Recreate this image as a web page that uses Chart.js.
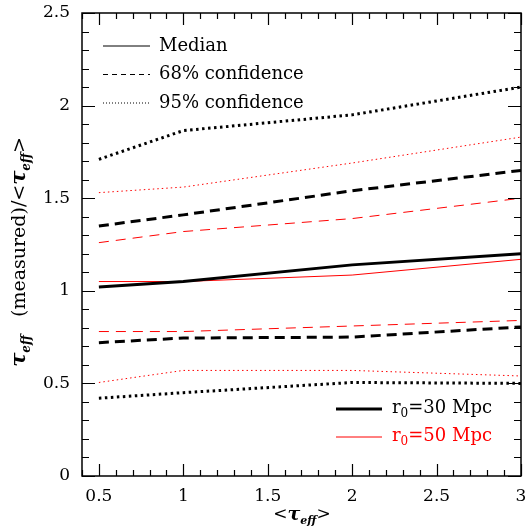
<!DOCTYPE html>
<html>
<head>
<meta charset="utf-8">
<script src="https://cdn.jsdelivr.net/npm/chart.js@4.4.1/dist/chart.umd.min.js"></script>
<style>
  html, body { margin: 0; padding: 0; background: #fff; }
  #wrap { width: 527px; height: 527px; }
</style>
</head>
<body>
<div id="wrap"><canvas id="myChart"></canvas></div>
<script>
// mean optical depth bins
var tauBins = [0.5, 1, 2, 3];

// r0 = 30 Mpc (black)
var r30Median = [1.02, 1.05, 1.14, 1.20];
var r30Hi68 = [1.35, 1.41, 1.54, 1.65];
var r30Lo68 = [0.72, 0.745, 0.75, 0.805];
var r30Hi95 = [1.71, 1.865, 1.95, 2.10];
var r30Lo95 = [0.42, 0.45, 0.505, 0.50];

// r0 = 50 Mpc (red)
var r50Median = [1.05, 1.05, 1.085, 1.17];
var r50Hi68 = [1.26, 1.32, 1.39, 1.50];
var r50Lo68 = [0.78, 0.78, 0.81, 0.84];
var r50Hi95 = [1.53, 1.56, 1.69, 1.83];
var r50Lo95 = [0.505, 0.57, 0.57, 0.54];

var xTicks = [0.5, 1, 1.5, 2, 2.5, 3];
var yTicks = [0, 0.5, 1, 1.5, 2, 2.5];

var FONT = '"DejaVu Serif", serif';

function pts(vals) {
    return tauBins.map(function (x, i) { return { x: x, y: vals[i] }; });
}

function line(vals, color, width, dash) {
    return {
        data: pts(vals),
        borderColor: color,
        borderWidth: width,
        borderDash: dash,
        pointRadius: 0,
        fill: false,
        tension: 0
    };
}

var DASH_K = [10, 6], DOT_K = [2.5, 3.5];
var DASH_R = [10, 7], DOT_R = [1.5, 3];

// frame + inside ticks on all four sides
var framePlugin = {
    id: 'frame',
    afterDatasetsDraw: function (chart) {
        var c = chart.ctx, a = chart.chartArea;
        var xs = chart.scales.x, ys = chart.scales.y;
        c.save();
        c.strokeStyle = '#000';
        c.lineWidth = 1.5;
        c.strokeRect(a.left, a.top, a.right - a.left, a.bottom - a.top);
        c.lineWidth = 1.2;
        c.beginPath();
        for (var i = 4; i <= 30; i++) {
            var v = i / 10, px = Math.round(xs.getPixelForValue(v)) + 0.5;
            var len = (i % 5 === 0) ? 12 : 6;
            c.moveTo(px, a.bottom); c.lineTo(px, a.bottom - len);
            c.moveTo(px, a.top); c.lineTo(px, a.top + len);
        }
        for (var j = 0; j <= 25; j++) {
            var w = j / 10, py = Math.round(ys.getPixelForValue(w)) + 0.5;
            var l2 = (j % 5 === 0) ? 13 : 7;
            c.moveTo(a.left, py); c.lineTo(a.left + l2, py);
            c.moveTo(a.right, py); c.lineTo(a.right - l2, py);
        }
        c.stroke();
        c.restore();
    }
};

// legends and axis titles
var textPlugin = {
    id: 'texts',
    afterDraw: function (chart) {
        var c = chart.ctx;
        c.save();
        c.textBaseline = 'middle';
        c.textAlign = 'left';
        c.font = '18px ' + FONT;

        // line style legend, top left
        var rows = [['Median', []], ['68% confidence', [5, 4]], ['95% confidence', [1, 2]]];
        rows.forEach(function (r, i) {
            var y = 46 + i * 28.5;
            c.strokeStyle = '#000';
            c.lineWidth = 1;
            c.setLineDash(r[1]);
            c.beginPath(); c.moveTo(103, y); c.lineTo(150, y); c.stroke();
            c.fillStyle = '#000';
            c.fillText(r[0], 159, y);
        });
        c.setLineDash([]);

        // r0 legend, bottom right
        var r0 = [['30', '#000', 3, 409], ['50', '#ff0000', 1, 437]];
        r0.forEach(function (r) {
            var y = r[3];
            c.strokeStyle = r[1];
            c.lineWidth = r[2];
            c.beginPath(); c.moveTo(336, y); c.lineTo(382, y); c.stroke();
            c.fillStyle = r[1];
            var x = 392;
            c.font = '18px ' + FONT;
            c.fillText('r', x, y - 1);
            x += c.measureText('r').width;
            c.font = '12px ' + FONT;
            c.fillText('0', x, y + 5);
            x += c.measureText('0').width;
            c.font = '18px ' + FONT;
            c.fillText('=' + r[0] + ' Mpc', x, y - 1);
        });

        // x title  <tau_eff>
        c.fillStyle = '#000';
        var parts = [['<', '17px ' + FONT, 0], ['\u03c4', 'italic bold 19px ' + FONT, 0],
                     ['eff', 'italic bold 11px ' + FONT, 6], ['>', '17px ' + FONT, 0]];
        function width(p) {
            var t = 0;
            p.forEach(function (q) { c.font = q[1]; t += c.measureText(q[0]).width; });
            return t;
        }
        function draw(p, x0, y0) {
            var x = x0;
            p.forEach(function (q) {
                c.font = q[1];
                c.fillText(q[0], x, y0 + q[2]);
                x += c.measureText(q[0]).width;
            });
        }
        draw(parts, 302 - width(parts) / 2, 515);

        // y title  tau_eff (measured)/<tau_eff>
        var yp = [['\u03c4', 'italic bold 21px ' + FONT, 0], ['eff', 'italic bold 12px ' + FONT, 7],
                  ['   (measured)/<', '19px ' + FONT, 0], ['\u03c4', 'italic bold 21px ' + FONT, 0],
                  ['eff', 'italic bold 12px ' + FONT, 7], ['>', '19px ' + FONT, 0]];
        c.translate(20, 252);
        c.rotate(-Math.PI / 2);
        draw(yp, -width(yp) / 2, 0);
        c.restore();
    }
};

function fmt(v) { return String(v); }

var ctx = document.getElementById('myChart').getContext('2d');
var chart = new Chart(ctx, {
    type: 'line',
    data: {
        datasets: [
            line(r30Hi95, '#000', 3, DOT_K),
            line(r30Lo95, '#000', 3, DOT_K),
            line(r30Hi68, '#000', 3, DASH_K),
            line(r30Lo68, '#000', 3, DASH_K),
            line(r30Median, '#000', 3, []),
            line(r50Hi95, '#ff0000', 1, DOT_R),
            line(r50Lo95, '#ff0000', 1, DOT_R),
            line(r50Hi68, '#ff0000', 1, DASH_R),
            line(r50Lo68, '#ff0000', 1, DASH_R),
            line(r50Median, '#ff0000', 1, [])
        ]
    },
    options: {
        responsive: true,
        maintainAspectRatio: false,
        animation: false,
        layout: { padding: { top: 13, right: 6, left: 0, bottom: 0 } },
        plugins: { legend: { display: false }, tooltip: { enabled: false } },
        scales: {
            x: {
                type: 'linear',
                min: 0.4,
                max: 3,
                afterBuildTicks: function (s) { s.ticks = xTicks.map(function (v) { return { value: v }; }); },
                afterFit: function (s) { s.height = 51; s.paddingLeft = 0; s.paddingRight = 0; },
                grid: { display: false, drawTicks: false },
                border: { display: false },
                ticks: { color: '#000', padding: 10, maxRotation: 0, callback: fmt, font: { family: FONT, size: 17 } }
            },
            y: {
                min: 0,
                max: 2.5,
                afterBuildTicks: function (s) { s.ticks = yTicks.map(function (v) { return { value: v }; }); },
                afterFit: function (s) { s.width = 82; s.paddingTop = 0; s.paddingBottom = 0; },
                grid: { display: false, drawTicks: false },
                border: { display: false },
                ticks: { color: '#000', padding: 12, callback: fmt, font: { family: FONT, size: 17 } }
            }
        }
    },
    plugins: [framePlugin, textPlugin]
});
</script>
</body>
</html>
